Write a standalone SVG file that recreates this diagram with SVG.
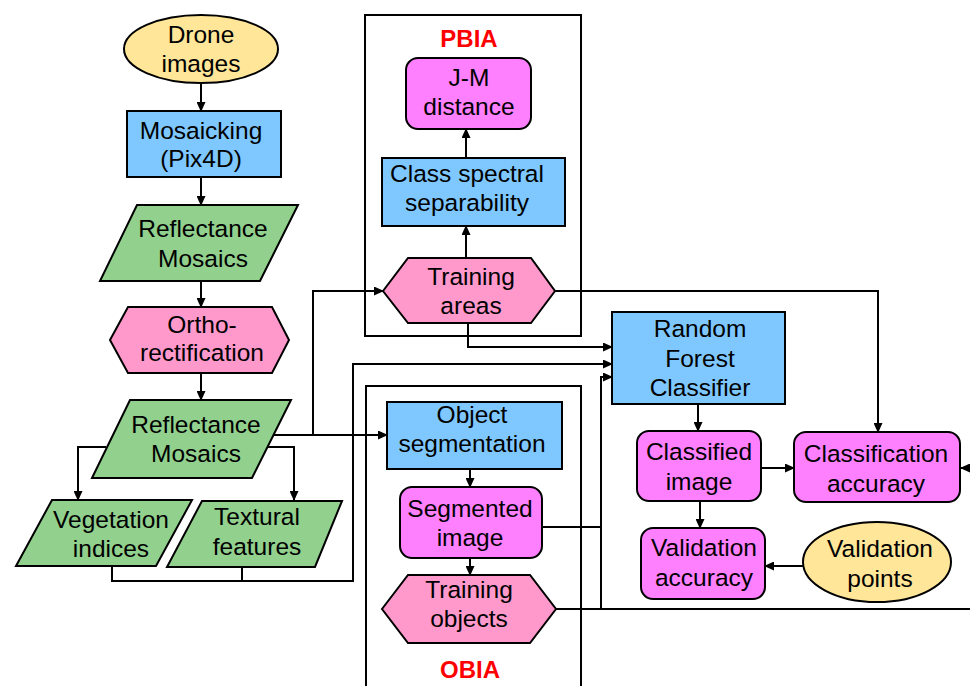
<svg xmlns="http://www.w3.org/2000/svg" width="970" height="686" viewBox="0 0 970 686">
<style>
text{font-family:"Liberation Sans",Arial,sans-serif;font-size:24.5px;fill:#000;text-anchor:middle}
.lbl{font-weight:bold;fill:#FF0000;font-size:24px}
.sh{stroke:#000;stroke-width:2}
.oval{fill:#FFE699}
.proc{fill:#7FC8FF}
.data{fill:#92D08E}
.prep{fill:#FF99CC}
.res{fill:#FF80FF}
.frame{fill:none;stroke:#000;stroke-width:2}
.c{fill:none;stroke:#000;stroke-width:2}
.ca{fill:none;stroke:#000;stroke-width:2;marker-end:url(#ah)}
</style>
<defs>
<marker id="ah" markerUnits="userSpaceOnUse" markerWidth="10" markerHeight="9" refX="9" refY="4.5" orient="auto">
<path d="M0,0 L10,4.5 L0,9 z" fill="#000"/>
</marker>
</defs>
<rect width="970" height="686" fill="#fff"/>
<g id="pbia-frame"><rect class="frame" x="365" y="15" width="216" height="321"/><text class="lbl" x="469" y="47">PBIA</text></g>
<g id="obia-frame"><path class="frame" d="M366 700 V386 H581 V700"/><text class="lbl" x="470" y="678">OBIA</text></g>
<g id="connectors">
<path class="ca" d="M201 83 V111"/>
<path class="ca" d="M201 177 V205"/>
<path class="ca" d="M201 281 V307"/>
<path class="ca" d="M201 373 V400"/>
<path class="ca" d="M106 447 H78 V500"/>
<path class="ca" d="M267 447 H294 V500"/>
<path class="ca" d="M273 435 H387"/>
<path class="ca" d="M313 435 V291 H383"/>
<path class="ca" d="M112 566 V581 H353 V364 H612"/>
<path class="c" d="M242 567 V581"/>
<path class="ca" d="M466 258 V226"/>
<path class="ca" d="M466 158 V129"/>
<path class="ca" d="M555 291 H878 V432"/>
<path class="ca" d="M468 323 V347 H612"/>
<path class="ca" d="M470 469 V487"/>
<path class="ca" d="M470 558 V575"/>
<path class="c" d="M542 527 H601"/>
<path class="c" d="M556 609 H970"/>
<path class="ca" d="M601 609 V377 H612"/>
<path class="ca" d="M970 468 H961"/>
<path class="ca" d="M698 404 V431"/>
<path class="ca" d="M761 468 H794"/>
<path class="ca" d="M700 501 V528"/>
<path class="ca" d="M804 566 H765"/>
</g>
<g id="drone-images"><ellipse class="sh oval" cx="201" cy="49" rx="77" ry="34"/><text x="201" y="43">Drone</text><text x="201" y="72">images</text></g>
<g id="mosaicking"><rect class="sh proc" x="127" y="111" width="154" height="66"/><text x="201" y="139">Mosaicking</text><text x="201" y="167">(Pix4D)</text></g>
<g id="reflectance-1"><polygon class="sh data" points="137,205 298,205 260,281 100,281"/><text x="203" y="237">Reflectance</text><text x="203" y="267">Mosaics</text></g>
<g id="ortho"><polygon class="sh prep" points="110,340 128,307 272,307 289,340 272,373 128,373"/><text x="202" y="333">Ortho-</text><text x="202" y="361">rectification</text></g>
<g id="reflectance-2"><polygon class="sh data" points="130,400 291,400 252,478 92,478"/><text x="196" y="433">Reflectance</text><text x="196" y="462">Mosaics</text></g>
<g id="vegetation"><polygon class="sh data" points="52,500 192,500 156,566 16,566"/><text x="111" y="528">Vegetation</text><text x="111" y="557">indices</text></g>
<g id="textural"><polygon class="sh data" points="202,501 342,501 315,567 167,567"/><text x="257" y="525">Textural</text><text x="257" y="555">features</text></g>
<g id="jm-distance"><rect class="sh res" x="406" y="58" width="125" height="71" rx="12"/><text x="469" y="86">J-M</text><text x="469" y="115">distance</text></g>
<g id="class-spectral"><rect class="sh proc" x="382" y="158" width="183" height="68"/><text x="467" y="182">Class spectral</text><text x="467" y="211">separability</text></g>
<g id="training-areas"><polygon class="sh prep" points="383,291 408,258 531,258 555,291 531,323 408,323"/><text x="471" y="285">Training</text><text x="471" y="314">areas</text></g>
<g id="object-seg"><rect class="sh proc" x="387" y="402" width="175" height="67"/><text x="472" y="423">Object</text><text x="472" y="452">segmentation</text></g>
<g id="segmented-image"><rect class="sh res" x="400" y="487" width="142" height="71" rx="12"/><text x="470" y="517">Segmented</text><text x="470" y="546">image</text></g>
<g id="training-objects"><polygon class="sh prep" points="382,609 408,575 530,575 556,609 530,643 408,643"/><text x="469" y="598">Training</text><text x="469" y="627">objects</text></g>
<g id="random-forest"><rect class="sh proc" x="612" y="312" width="173" height="92"/><text x="700" y="337">Random</text><text x="700" y="367">Forest</text><text x="700" y="396">Classifier</text></g>
<g id="classified-image"><rect class="sh res" x="637" y="431" width="124" height="70" rx="12"/><text x="699" y="460">Classified</text><text x="699" y="490">image</text></g>
<g id="classification-accuracy"><rect class="sh res" x="794" y="432" width="166" height="70" rx="12"/><text x="876" y="462">Classification</text><text x="876" y="492">accuracy</text></g>
<g id="validation-accuracy"><rect class="sh res" x="641" y="528" width="124" height="71" rx="12"/><text x="704" y="556">Validation</text><text x="704" y="586">accuracy</text></g>
<g id="validation-points"><ellipse class="sh oval" cx="877" cy="562" rx="74" ry="40"/><text x="880" y="557">Validation</text><text x="880" y="587">points</text></g>
</svg>
